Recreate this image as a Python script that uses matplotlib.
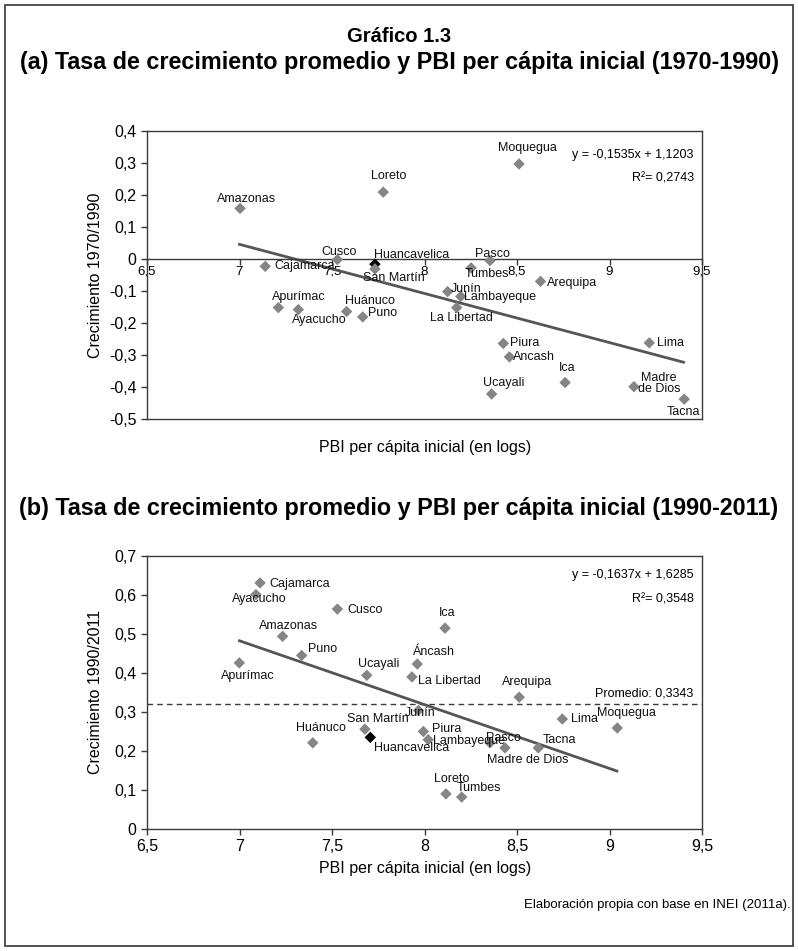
import matplotlib
matplotlib.use("Agg")
import matplotlib.pyplot as plt
from matplotlib.ticker import FuncFormatter, MultipleLocator
from matplotlib.patches import Rectangle

plt.rcParams['font.family'] = ['Liberation Sans', 'DejaVu Sans']
LABEL_FONT = ['Liberation Sans', 'DejaVu Sans']

# ---------------- data: panel (a) 1970-1990 ----------------
regiones_a = ['Amazonas', 'Loreto', 'Moquegua', 'Cajamarca', 'Cusco', 'Huancavelica',
              'San Martín', 'Apurímac', 'Ayacucho', 'Huánuco', 'Puno', 'Junín',
              'Lambayeque', 'La Libertad', 'Pasco', 'Tumbes', 'Arequipa', 'Piura',
              'Ancash', 'Ucayali', 'Ica', 'Lima', 'Madre\nde Dios', 'Tacna']
pbi_a = [7.003, 7.777, 8.511, 7.139, 7.529, 7.732, 7.732, 7.21, 7.318, 7.579, 7.666,
         8.125, 8.196, 8.174, 8.354, 8.252, 8.627, 8.426, 8.459, 8.363, 8.76, 9.215,
         9.132, 9.404]
crec_a = [0.158, 0.209, 0.297, -0.023, -0.002, -0.016, -0.031, -0.152, -0.158, -0.164,
          -0.181, -0.102, -0.117, -0.152, -0.005, -0.028, -0.07, -0.264, -0.306,
          -0.422, -0.386, -0.262, -0.399, -0.438]
pend_a, inter_a, r2_a = -0.1535, 1.1203, 0.2743
rango_a = [7.0, 9.4]

# ---------------- data: panel (b) 1990-2011 ----------------
regiones_b = ['Cajamarca', 'Ayacucho', 'Cusco', 'Amazonas', 'Puno', 'Apurímac', 'Ucayali',
              'Áncash', 'La Libertad', 'Ica', 'Huánuco', 'San Martín', 'Huancavelica',
              'Junín', 'Piura', 'Lambayeque', 'Pasco', 'Madre de Dios', 'Tacna', 'Lima',
              'Moquegua', 'Arequipa', 'Loreto', 'Tumbes']
pbi_b = [7.111, 7.089, 7.529, 7.233, 7.336, 6.999, 7.688, 7.961, 7.932, 8.111, 7.396,
         7.678, 7.707, 7.967, 7.994, 8.02, 8.354, 8.435, 8.615, 8.745, 9.042, 8.512,
         8.116, 8.201]
crec_b = [0.631, 0.601, 0.564, 0.494, 0.445, 0.426, 0.394, 0.423, 0.39, 0.515, 0.221,
          0.256, 0.235, 0.304, 0.25, 0.229, 0.221, 0.208, 0.208, 0.282, 0.259, 0.338,
          0.09, 0.082]
pend_b, inter_b, r2_b = -0.1637, 1.6285, 0.3548
rango_b = [7.0, 9.04]
promedio_b = 0.3343
promedio_linea = 0.32

destacado = 'Huancavelica'

# label offsets (pixels: dx right, dy down, ha)
off_a = {
    'Amazonas': (6, -9, 'center'), 'Loreto': (5, -16, 'center'),
    'Moquegua': (8, -16, 'center'), 'Cajamarca': (9, 0, 'left'),
    'Cusco': (2, -8, 'center'), 'Huancavelica': (-1, -9, 'left'),
    'San Martín': (19, 9, 'center'), 'Apurímac': (20, -11, 'center'),
    'Ayacucho': (21, 10, 'center'), 'Huánuco': (23, -10, 'center'),
    'Puno': (5, -4, 'left'), 'Junín': (3, -3, 'left'),
    'Lambayeque': (3, 1, 'left'), 'La Libertad': (5, 10, 'center'),
    'Pasco': (2, -7, 'center'), 'Tumbes': (16, 6, 'center'),
    'Arequipa': (6, 2, 'left'), 'Piura': (7, 0, 'left'),
    'Ancash': (4, 0, 'left'), 'Ucayali': (12, -11, 'center'),
    'Ica': (2, -15, 'center'), 'Lima': (8, 0, 'left'),
    'Madre\nde Dios': (25, -3, 'center'), 'Tacna': (-1, 13, 'center'),
}
off_b = {
    'Cajamarca': (9, 1, 'left'), 'Ayacucho': (3, 4, 'center'),
    'Cusco': (10, 1, 'left'), 'Amazonas': (6, -10, 'center'),
    'Puno': (6, -6, 'left'), 'Apurímac': (8, 13, 'center'),
    'Ucayali': (12, -11, 'center'), 'Áncash': (17, -12, 'center'),
    'La Libertad': (6, 4, 'left'), 'Ica': (2, -15, 'center'),
    'Huánuco': (8, -15, 'center'), 'San Martín': (13, -10, 'center'),
    'Huancavelica': (4, 11, 'left'), 'Junín': (2, 3, 'center'),
    'Piura': (9, -2, 'left'), 'Lambayeque': (5, 1, 'left'),
    'Pasco': (13, -5, 'center'), 'Madre de Dios': (23, 12, 'center'),
    'Tacna': (21, -8, 'center'), 'Lima': (9, 0, 'left'),
    'Moquegua': (9, -15, 'center'), 'Arequipa': (8, -15, 'center'),
    'Loreto': (6, -15, 'center'), 'Tumbes': (17, -9, 'center'),
}

GREY = '#858585'
LINE = '#555555'
SPINE = '#3a3a3a'
W, H = 798, 951

fig = plt.figure(figsize=(W / 100, H / 100), dpi=100)


def fx(px):
    return px / W


def fy(py):
    return 1 - py / H


def fmt(v, pos=None):
    s = ('%.1f' % v).rstrip('0').rstrip('.')
    if s in ('-0', '-0.'):
        s = '0'
    return s.replace('.', ',')


def num4(v):
    return ('%.4f' % v).replace('.', ',')


def draw(ax, xs, ys, names, offs):
    cols = ['black' if n == destacado else GREY for n in names]
    ax.scatter(xs, ys, marker='D', s=34, c=cols, edgecolors='none', zorder=3)
    for x, y, n in zip(xs, ys, names):
        dx, dy, ha = offs[n]
        ax.annotate(n, (x, y), xytext=(dx * 0.72, -dy * 0.72), textcoords='offset points',
                    ha=ha, va='center', fontsize=9, family=LABEL_FONT, color='#111111',
                    multialignment='center', linespacing=0.95, zorder=4)


def style(ax):
    for s in ax.spines.values():
        s.set_color(SPINE)
        s.set_linewidth(1.0)
    ax.tick_params(direction='out', length=4, width=1.0, color=SPINE)
    ax.xaxis.set_major_locator(MultipleLocator(0.5))
    ax.xaxis.set_major_formatter(FuncFormatter(fmt))
    ax.yaxis.set_major_locator(MultipleLocator(0.1))
    ax.yaxis.set_major_formatter(FuncFormatter(fmt))
    ax.set_xlim(6.5, 9.5)


# ---------------- panel (a) ----------------
axa = fig.add_axes([fx(147), fy(419), fx(702) - fx(147), fy(131) - fy(419)])
style(axa)
axa.set_ylim(-0.5, 0.4)
axa.spines['bottom'].set_position(('data', 0))
axa.plot([6.5, 9.5], [-0.5, -0.5], color=SPINE, lw=1.0, clip_on=False, zorder=5)
axa.tick_params(axis='x', labelsize=9.5, pad=1)
axa.tick_params(axis='y', labelsize=11.5)
axa.plot(rango_a, [pend_a * v + inter_a for v in rango_a], color=LINE, lw=2, zorder=2)
draw(axa, pbi_a, crec_a, regiones_a, off_a)
axa.text(0.985, 0.915, 'y = ' + num4(pend_a) + 'x + ' + num4(inter_a),
         transform=axa.transAxes, ha='right', va='center', fontsize=9, family=LABEL_FONT)
axa.text(0.985, 0.835, 'R²= ' + num4(r2_a),
         transform=axa.transAxes, ha='right', va='center', fontsize=9, family=LABEL_FONT)

# ---------------- panel (b) ----------------
axb = fig.add_axes([fx(147), fy(829), fx(702) - fx(147), fy(556) - fy(829)])
style(axb)
axb.set_ylim(0, 0.7)
axb.tick_params(axis='both', labelsize=11.5)
axb.axhline(promedio_linea, color=SPINE, lw=1.0, ls=(0, (4, 3)), zorder=1)
axb.plot(rango_b, [pend_b * v + inter_b for v in rango_b], color=LINE, lw=2, zorder=2)
draw(axb, pbi_b, crec_b, regiones_b, off_b)
axb.text(0.985, 0.93, 'y = ' + num4(pend_b) + 'x + ' + num4(inter_b),
         transform=axb.transAxes, ha='right', va='center', fontsize=9, family=LABEL_FONT)
axb.text(0.985, 0.84, 'R²= ' + num4(r2_b),
         transform=axb.transAxes, ha='right', va='center', fontsize=9, family=LABEL_FONT)
axb.text(0.985, promedio_linea + 0.028, 'Promedio: ' + num4(promedio_b),
         transform=axb.get_yaxis_transform(), ha='right', va='center', fontsize=9,
         family=LABEL_FONT)

# ---------------- titles & labels ----------------
fig.text(0.5, fy(36), 'Gráfico 1.3', ha='center', va='center', fontsize=14.5,
         fontweight='bold')
fig.text(0.5, fy(62), '(a) Tasa de crecimiento promedio y PBI per cápita inicial (1970-1990)',
         ha='center', va='center', fontsize=16.8, fontweight='bold')
fig.text(0.5, fy(508), '(b) Tasa de crecimiento promedio y PBI per cápita inicial (1990-2011)',
         ha='center', va='center', fontsize=16.8, fontweight='bold')
fig.text(fx(425), fy(448), 'PBI per cápita inicial (en logs)', ha='center', va='center',
         fontsize=11.5)
fig.text(fx(425), fy(868), 'PBI per cápita inicial (en logs)', ha='center', va='center',
         fontsize=11.5)
fig.text(fx(95), fy(275), 'Crecimiento 1970/1990', ha='center', va='center', rotation=90,
         fontsize=11.5)
fig.text(fx(95), fy(692), 'Crecimiento 1990/2011', ha='center', va='center', rotation=90,
         fontsize=11.5)
fig.text(fx(791), fy(905), 'Elaboración propia con base en INEI (2011a).', ha='right',
         va='center', fontsize=9.5)

fig.add_artist(Rectangle((fx(5), fy(946)), fx(793) - fx(5), fy(5) - fy(946),
                         transform=fig.transFigure, fill=False, edgecolor='#444444', lw=1.3))

fig.savefig('out.png', dpi=100)
